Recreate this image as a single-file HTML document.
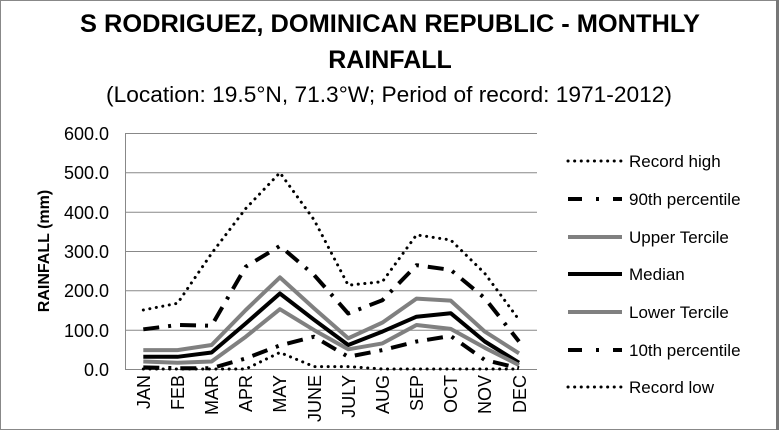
<!DOCTYPE html>
<html><head><meta charset="utf-8"><style>
html,body{margin:0;padding:0;background:#fff;}
svg{display:block;font-family:"Liberation Sans",Arial,sans-serif;}
</style></head><body>
<svg width="780" height="430" viewBox="0 0 780 430">
<rect x="0.5" y="0.5" width="776" height="429" fill="#fff" stroke="#888" stroke-width="1"/>
<line x1="777.5" y1="0" x2="777.5" y2="430" stroke="#777" stroke-width="3"/>
<text x="390" y="32" text-anchor="middle" font-size="25" font-weight="bold" textLength="620" lengthAdjust="spacingAndGlyphs">S RODRIGUEZ, DOMINICAN REPUBLIC - MONTHLY</text>
<text x="390" y="68" text-anchor="middle" font-size="25" font-weight="bold">RAINFALL</text>
<text x="389" y="102" text-anchor="middle" font-size="22" textLength="566" lengthAdjust="spacingAndGlyphs">(Location: 19.5°N, 71.3°W; Period of record: 1971-2012)</text>
<g stroke="#888" stroke-width="1">
<line x1="125" y1="133.5" x2="537" y2="133.5"/>
<line x1="125" y1="172.8" x2="537" y2="172.8"/>
<line x1="125" y1="212.2" x2="537" y2="212.2"/>
<line x1="125" y1="251.5" x2="537" y2="251.5"/>
<line x1="125" y1="290.8" x2="537" y2="290.8"/>
<line x1="125" y1="330.2" x2="537" y2="330.2"/>
<line x1="125" y1="369.5" x2="537" y2="369.5"/>
<line x1="125.5" y1="133" x2="125.5" y2="370"/>
</g>
<g font-size="18" text-anchor="end">
<text x="109" y="140">600.0</text><text x="109" y="179">500.0</text><text x="109" y="219">400.0</text>
<text x="109" y="258">300.0</text><text x="109" y="297">200.0</text><text x="109" y="337">100.0</text><text x="109" y="376">0.0</text>
</g>
<text transform="translate(49,251) rotate(-90)" text-anchor="middle" font-size="16" font-weight="bold">RAINFALL (mm)</text>
<g font-size="18" text-anchor="end">
<text transform="translate(150,375) rotate(-90)">JAN</text>
<text transform="translate(184,375) rotate(-90)">FEB</text>
<text transform="translate(218,375) rotate(-90)">MAR</text>
<text transform="translate(252,375) rotate(-90)">APR</text>
<text transform="translate(286,375) rotate(-90)">MAY</text>
<text transform="translate(321,375) rotate(-90)">JUNE</text>
<text transform="translate(355,375) rotate(-90)">JULY</text>
<text transform="translate(389,375) rotate(-90)">AUG</text>
<text transform="translate(423,375) rotate(-90)">SEP</text>
<text transform="translate(457,375) rotate(-90)">OCT</text>
<text transform="translate(491,375) rotate(-90)">NOV</text>
<text transform="translate(526,375) rotate(-90)">DEC</text>
</g>
<g fill="none" stroke-linejoin="round">
<polyline stroke="#000" stroke-width="3" stroke-linecap="round" stroke-dasharray="0.1 6.5" points="143.3,310 177.5,303.3 211.6,253.4 245.8,208.5 279.9,172.7 314.1,219.9 348.2,285.2 382.4,281.7 416.5,234.9 450.7,240 484.8,273.4 519,319.8"/>
<polyline stroke="#000" stroke-width="4" stroke-dasharray="16 9 3 9" points="143.3,329.3 177.5,325 211.6,325.7 245.8,266.7 279.9,245.9 314.1,275 348.2,313.5 382.4,300.2 416.5,265.2 450.7,269.9 484.8,298.2 519,341.5"/>
<polyline stroke="#808080" stroke-width="4" points="143.3,350.1 177.5,350.1 211.6,345 245.8,310 279.9,277.4 314.1,308.4 348.2,338.3 382.4,322.6 416.5,298.6 450.7,300.6 484.8,331.6 519,353.3"/>
<polyline stroke="#000" stroke-width="4" points="143.3,356.8 177.5,356.8 211.6,352.5 245.8,323.4 279.9,293.5 314.1,319.8 348.2,345 382.4,331.6 416.5,316.7 450.7,313.2 484.8,341.5 519,362.7"/>
<polyline stroke="#808080" stroke-width="4" points="143.3,361.5 177.5,362.7 211.6,361.5 245.8,336.7 279.9,309.2 314.1,330.1 348.2,349.3 382.4,343.4 416.5,325 450.7,328.9 484.8,347.8 519,365.1"/>
<polyline stroke="#000" stroke-width="4" stroke-dasharray="16 9 3 9" points="143.3,367.4 177.5,368.2 211.6,368.2 245.8,358.4 279.9,345.4 314.1,336.7 348.2,356.8 382.4,350.1 416.5,341.5 450.7,336 484.8,360 519,368.2"/>
<polyline stroke="#000" stroke-width="3" stroke-linecap="round" stroke-dasharray="0.1 6.5" points="143.3,369 177.5,369 211.6,369 245.8,369 279.9,352.5 314.1,366.6 348.2,366.6 382.4,369 416.5,369 450.7,369 484.8,369 519,369"/>
</g>
<g fill="none">
<line x1="568" y1="161" x2="622" y2="161" stroke="#000" stroke-width="3" stroke-linecap="round" stroke-dasharray="0.1 6.5"/>
<line x1="568" y1="199" x2="622" y2="199" stroke="#000" stroke-width="4" stroke-dasharray="14 14 3 14"/>
<line x1="568" y1="237" x2="622" y2="237" stroke="#808080" stroke-width="4"/>
<line x1="568" y1="274" x2="622" y2="274" stroke="#000" stroke-width="4"/>
<line x1="568" y1="312" x2="622" y2="312" stroke="#808080" stroke-width="4"/>
<line x1="568" y1="350" x2="622" y2="350" stroke="#000" stroke-width="4" stroke-dasharray="14 14 3 14"/>
<line x1="568" y1="387" x2="622" y2="387" stroke="#000" stroke-width="3" stroke-linecap="round" stroke-dasharray="0.1 6.5"/>
</g>
<g font-size="17">
<text x="629" y="167">Record high</text>
<text x="629" y="205">90th percentile</text>
<text x="629" y="243">Upper Tercile</text>
<text x="629" y="280">Median</text>
<text x="629" y="318">Lower Tercile</text>
<text x="629" y="356">10th percentile</text>
<text x="629" y="393">Record low</text>
</g>
</svg>
</body></html>
